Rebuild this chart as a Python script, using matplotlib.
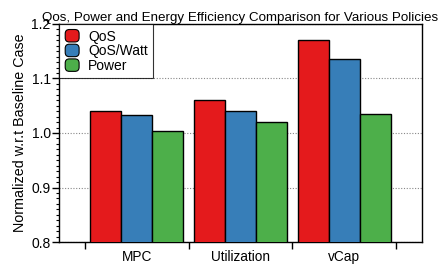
import matplotlib
matplotlib.use("Agg")
import matplotlib.pyplot as plt
import numpy as np
from matplotlib.patches import FancyBboxPatch, Patch
from matplotlib.legend_handler import HandlerPatch
from matplotlib.ticker import MultipleLocator, FixedLocator, NullFormatter

plt.rcParams['font.family'] = ['Liberation Sans', 'DejaVu Sans']

categories = ["MPC", "Utilization", "vCap"]
series_names = ["QoS", "QoS/Watt", "Power"]
qos = [1.040, 1.060, 1.170]
qos_watt = [1.033, 1.040, 1.136]
power = [1.004, 1.020, 1.035]
colors = ["#E41A1C", "#377EB8", "#4DAF4A"]

fig = plt.figure(figsize=(4.4, 2.66), dpi=100)
ax = fig.add_axes([0.134, 0.0902, 0.825, 0.8196])

x = np.arange(len(categories))
w = 0.3
for i, (vals, name, c) in enumerate(zip([qos, qos_watt, power], series_names, colors)):
    ax.bar(x + (i - 1) * w, vals, width=w, color=c, edgecolor="black",
           linewidth=1.0, label=name, zorder=3)

ax.set_xlim(-0.75, 2.75)
ax.set_ylim(0.8, 1.2)
ax.yaxis.set_major_locator(MultipleLocator(0.1))
ax.yaxis.set_minor_locator(MultipleLocator(0.01))
ax.yaxis.set_major_formatter(matplotlib.ticker.FormatStrFormatter('%.1f'))
ax.tick_params(axis='y', which='major', length=5, width=1, labelsize=10, pad=1)
ax.tick_params(axis='y', which='minor', length=2.5, width=0.8)

ax.xaxis.set_major_locator(FixedLocator([-0.5, 0.5, 1.5, 2.5]))
ax.xaxis.set_major_formatter(NullFormatter())
ax.set_xticks(x, minor=True)
ax.set_xticklabels(categories, minor=True)
ax.tick_params(axis='x', which='major', length=5, width=1)
ax.tick_params(axis='x', which='minor', length=0, labelsize=9.8, pad=5.5)

ax.grid(axis='y', which='major', linestyle=(0, (1, 1.5)), color='#888888', linewidth=0.8, zorder=0)
for s in ax.spines.values():
    s.set_linewidth(1.0)
    s.set_color('black')

ax.set_ylabel("Normalized w.r.t Baseline Case", fontsize=10.3, labelpad=3)
ax.set_title("Qos, Power and Energy Efficiency Comparison for Various Policies",
             fontsize=9.6, pad=0.5)

class RoundHandler(HandlerPatch):
    def create_artists(self, legend, orig_handle, xdescent, ydescent, width, height, fontsize, trans):
        p = FancyBboxPatch((-xdescent + 0.5, -ydescent - 0.5), width - 1, height + 1,
                           boxstyle="round,pad=0,rounding_size=3",
                           facecolor=orig_handle.get_facecolor(),
                           edgecolor="black", linewidth=0.8, transform=trans)
        return [p]

handles = [Patch(facecolor=c, edgecolor='black') for c in colors]
leg = ax.legend(handles, series_names, loc='upper left', fontsize=10,
                frameon=True, fancybox=False, borderaxespad=0,
                handler_map={Patch: RoundHandler()},
                handlelength=1.1, handleheight=0.85, handletextpad=0.6,
                labelspacing=0.05, borderpad=0.4)
leg.get_frame().set_edgecolor('black')
leg.get_frame().set_linewidth(0.8)
leg.set_zorder(5)

fig.savefig("out.png", dpi=100)
